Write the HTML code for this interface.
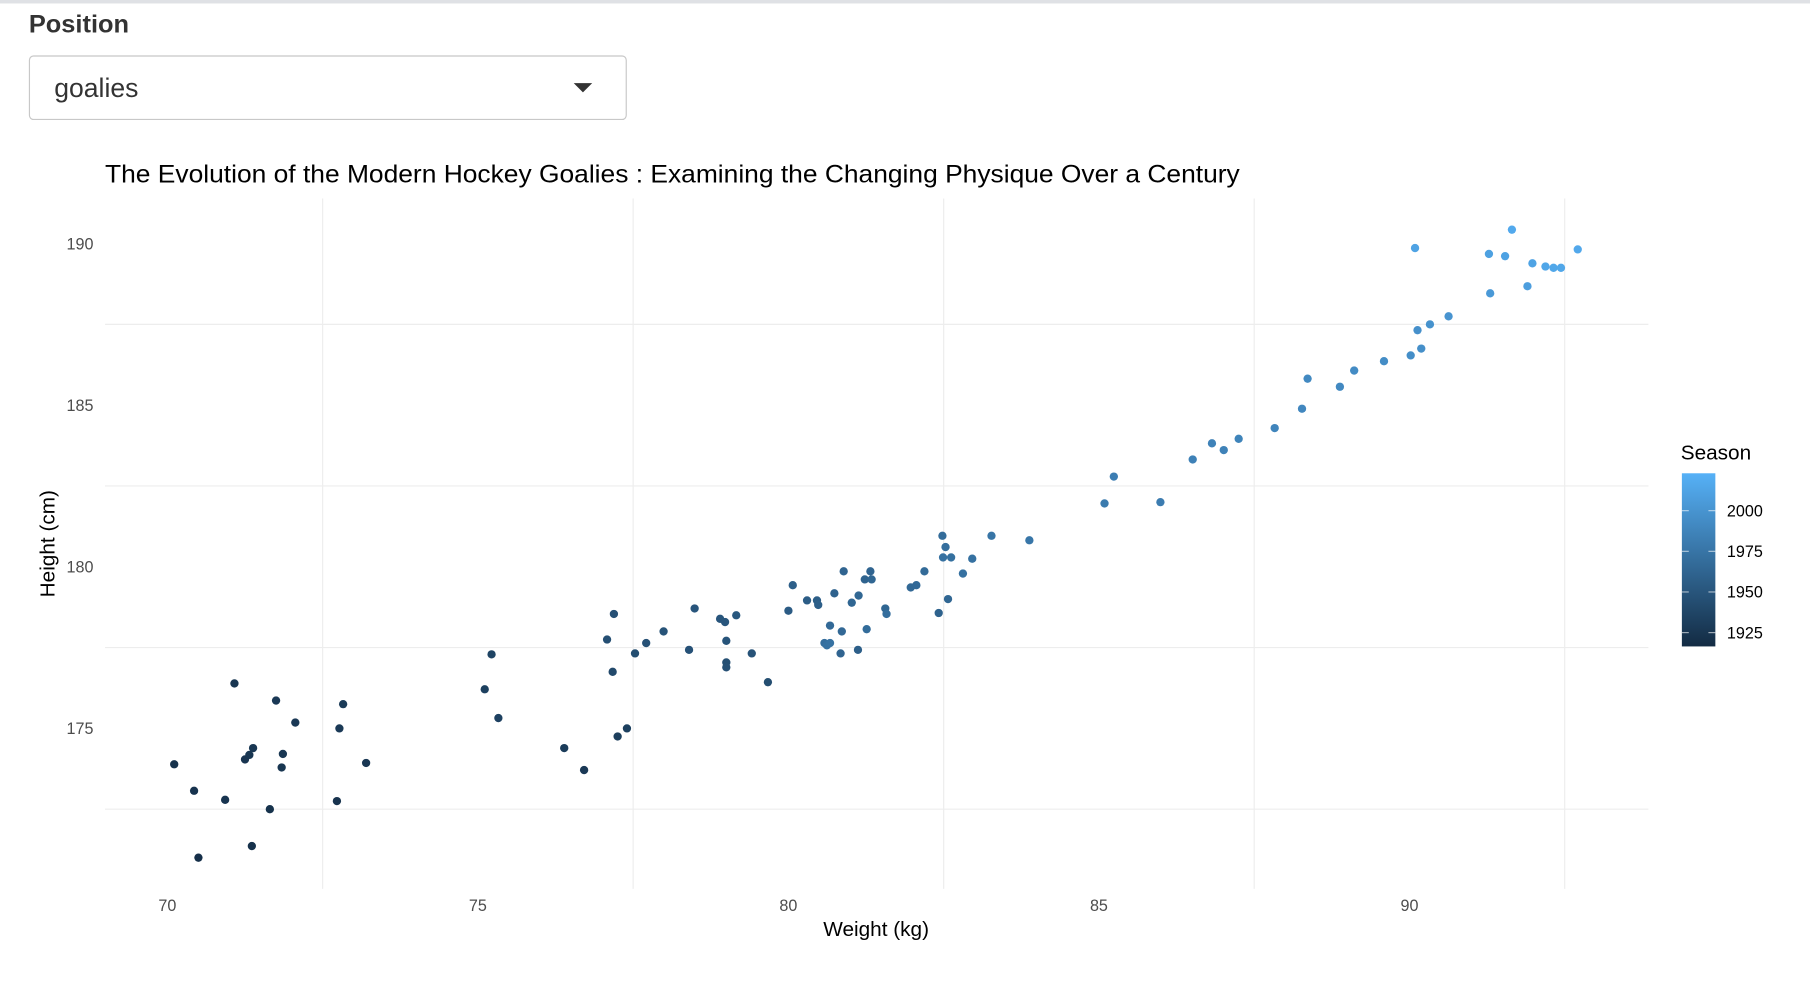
<!DOCTYPE html>
<html><head><meta charset="utf-8">
<style>
html,body{margin:0;padding:0;background:#fff;width:1810px;height:990px;overflow:hidden;}
#wrap{position:absolute;left:0;top:0;width:1568px;height:858px;transform:scale(1.15434);transform-origin:0 0;font-family:"Liberation Sans",Arial,sans-serif;}
#topbar{position:absolute;left:0;top:0;width:1568px;height:3px;background:#dfe1e5;}
#lbl{position:absolute;left:25px;top:8px;font-size:22px;font-weight:bold;color:#333;}
#sel{position:absolute;left:25px;top:48px;width:516px;height:54px;border:1px solid #c8c8c8;border-radius:4px;box-sizing:content-box;}
#sel span{position:absolute;left:21px;top:14px;font-size:23px;color:#333;}
#sel i{position:absolute;left:471px;top:23px;width:0;height:0;border-left:8px solid transparent;border-right:8px solid transparent;border-top:8px solid #333;}
svg{position:absolute;left:0;top:0;}
</style></head><body>
<div id="wrap">
<div id="topbar"></div>
<div id="lbl">Position</div>
<div id="sel"><span>goalies</span><i></i></div>
<svg id="chart" width="1568" height="858"></svg>
</div>
<script>
const weights=[70.11,70.43,70.50,70.93,71.08,71.25,71.32,71.38,71.65,71.36,71.75,71.84,71.86,72.06,72.73,72.77,72.83,73.20,
75.11,75.22,75.33,76.39,76.71,77.08,77.17,77.19,77.25,77.40,77.53,77.71,77.99,78.40,78.49,78.90,78.98,79.0,79.0,79.0,79.16,79.41,79.67,
80.0,80.07,80.30,80.46,80.48,80.58,80.62,80.67,80.67,80.74,80.84,80.86,80.89,81.02,81.12,81.13,81.23,81.26,81.32,81.34,81.56,81.58,81.97,82.06,82.19,82.42,82.48,82.53,82.49,82.57,82.62,82.81,82.96,83.27,83.88,
85.09,85.24,85.99,86.51,86.82,87.01,87.25,87.83,88.27,88.36,88.88,89.11,89.59,90.02,90.13,90.19,90.33,90.63,90.09,91.28,91.30,91.54,91.65,91.90,91.98,92.19,92.32,92.44,92.71];
const heights=[173.89,173.07,171.0,172.79,176.39,174.04,174.18,174.39,172.5,171.36,175.86,173.79,174.21,175.18,172.75,175.0,175.75,173.93,
176.21,177.29,175.32,174.39,173.71,177.75,176.75,178.54,174.75,175.0,177.32,177.64,178.0,177.43,178.71,178.39,178.29,177.71,177.04,176.89,178.5,177.32,176.43,
178.64,179.43,178.96,178.96,178.82,177.64,177.57,177.64,178.18,179.18,177.32,178.0,179.86,178.89,177.43,179.11,179.61,178.07,179.86,179.61,178.71,178.54,179.36,179.43,179.86,178.57,180.96,180.61,180.29,179.0,180.29,179.79,180.25,180.96,180.82,
181.96,182.79,182.0,183.32,183.82,183.61,183.96,184.29,184.89,185.82,185.57,186.07,186.36,186.54,187.32,186.75,187.5,187.75,189.86,189.68,188.46,189.61,190.43,188.68,189.39,189.29,189.25,189.25,189.82];
const seasons=[1922,1923,1920,1924,1925,1924,1925,1926,1922,1921,1927,1925,1926,1927,1923,1928,1929,1926,
1933,1936,1934,1930,1928,1945,1940,1946,1932,1933,1944,1946,1948,1947,1950,1950,1951,1949,1945,1946,1952,1948,1944,
1955,1958,1956,1957,1958,1970,1972,1973,1966,1960,1962,1965,1962,1963,1958,1964,1961,1968,1962,1963,1963,1970,1965,1966,1967,1960,1968,1970,1972,1964,1971,1972,1972,1975,1976,
1980,1982,1981,1985,1986,1986,1987,1988,1990,1991,1991,1993,1994,1995,1997,1996,1998,2000,2012,2010,2004,2011,2017,2008,2012,2014,2015,2015,2016];
const xTicks=[70,75,80,85,90];
const yTicks=[175,180,185,190];
const xGrid=[72.5,77.5,82.5,87.5,92.5];
const yGrid=[172.5,177.5,182.5,187.5];
const legendTicks=[1925,1950,1975,2000];

const NS='http://www.w3.org/2000/svg';
const svg=document.getElementById('chart');
const X0=91,X1=1428,Y0=172,Y1=770;
const xs=v=>145+(v-70)*53.8;
const ys=v=>211+(190-v)*28;
const sMin=1916.5,sMax=2023;
const ls=v=>560-(v-sMin)/(sMax-sMin)*150;
function col(s){const t=Math.max(0,Math.min(1,(s-sMin)/(sMax-sMin)));const a=[0x13,0x2B,0x43],b=[0x56,0xB1,0xF7];return 'rgb('+a.map((c,i)=>Math.round(c+(b[i]-c)*t)).join(',')+')';}
function mk(tag,attrs,parent){const e=document.createElementNS(NS,tag);for(const k in attrs)e.setAttribute(k,attrs[k]);(parent||svg).appendChild(e);return e;}

const title=mk('text',{x:91,y:158,'font-size':22,fill:'#000',textLength:983,lengthAdjust:'spacingAndGlyphs'});
title.textContent='The Evolution of the Modern Hockey Goalies : Examining the Changing Physique Over a Century';



xGrid.forEach(v=>{const l=mk('line',{x1:xs(v),x2:xs(v),y1:Y0,y2:Y1,stroke:'#ededed','stroke-width':1});

});
yGrid.forEach(v=>{const l=mk('line',{x1:X0,x2:X1,y1:ys(v),y2:ys(v),stroke:'#ededed','stroke-width':1});

});

xTicks.forEach(v=>{const t=mk('text',{x:xs(v),y:789,'font-size':14,fill:'#4d4d4d','text-anchor':'middle'});t.textContent=v;

});
yTicks.forEach(v=>{const t=mk('text',{x:81,y:ys(v)+5,'font-size':14,fill:'#4d4d4d','text-anchor':'end'});t.textContent=v;

});

const xt=mk('text',{x:759,y:811,'font-size':18,fill:'#000','text-anchor':'middle'});xt.textContent='Weight (kg)';


const yt=mk('text',{x:0,y:0,'font-size':18,fill:'#000','text-anchor':'middle',transform:'translate(47,471) rotate(-90)'});yt.textContent='Height (cm)';



weights.forEach((w,i)=>{const c=mk('circle',{cx:xs(w),cy:ys(heights[i]),r:3.6,fill:col(seasons[i])});

});

const lt=mk('text',{x:1456,y:398,'font-size':18,fill:'#000'});lt.textContent='Season';


const defs=mk('defs',{});
const g=mk('linearGradient',{id:'lg',x1:0,y1:1,x2:0,y2:0},defs);
mk('stop',{offset:'0','stop-color':col(sMin)},g);
mk('stop',{offset:'1','stop-color':col(sMax)},g);
const bar=mk('rect',{x:1457,y:410,width:29,height:150,fill:'url(#lg)'});


legendTicks.forEach(v=>{const y=ls(v);
mk('line',{x1:1457,x2:1463,y1:y,y2:y,stroke:'#fff','stroke-opacity':0.6});
mk('line',{x1:1480,x2:1486,y1:y,y2:y,stroke:'#fff','stroke-opacity':0.6});
const t=mk('text',{x:1496,y:y+5,'font-size':14,fill:'#000'});t.textContent=v;

});
</script>
</body></html>
